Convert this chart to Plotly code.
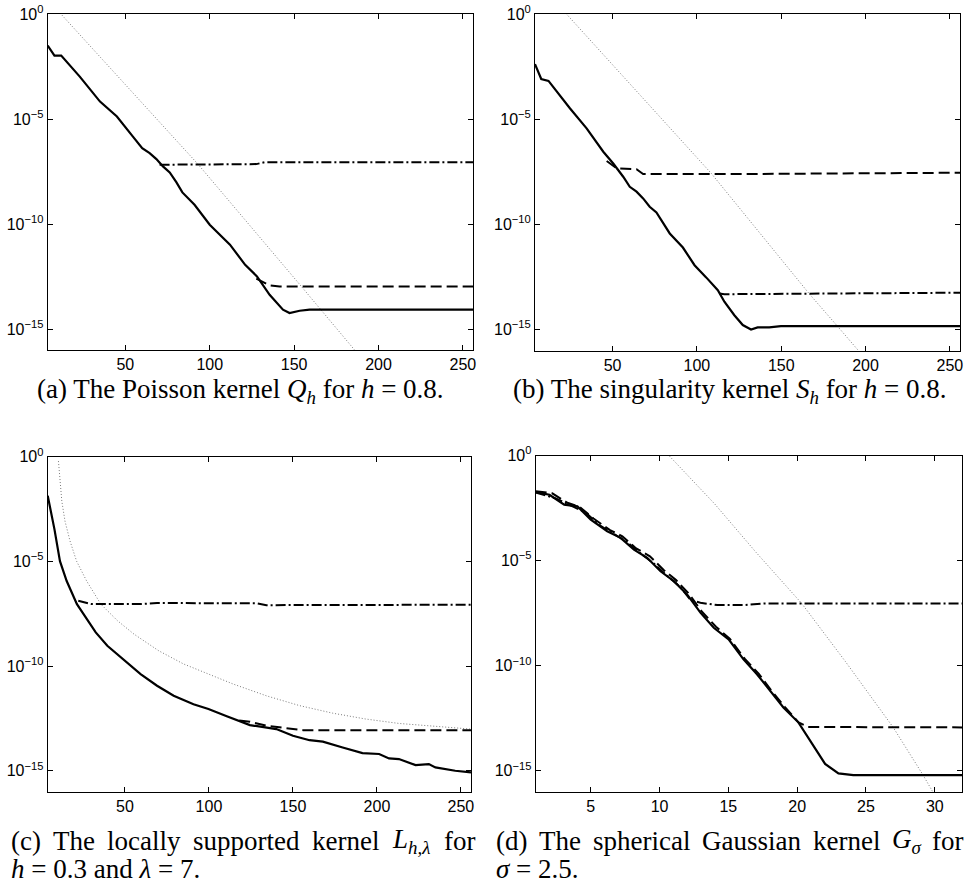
import plotly.graph_objects as go

W, H = 967, 887

# ---------------- data (log10 of the error) ----------------
# (a) Poisson kernel
a_solid_x = [4, 8, 12, 23, 35, 45, 54.5, 60, 64.4, 68.4, 72.3, 76.3, 80.2, 83.8, 91, 100, 112, 121, 128, 135.5, 143.4, 147.3, 153.3, 159.2, 256]
a_solid_e = [-1.49, -1.97, -1.97, -2.97, -4.16, -4.87, -5.83, -6.38, -6.62, -6.9, -7.25, -7.54, -8.0, -8.49, -9.08, -10.03, -10.98, -11.94, -12.49, -13.37, -14.08, -14.24, -14.13, -14.08, -14.08]
a_dash_x = [127.6, 135.5, 141.4, 256]
a_dash_e = [-12.6, -12.92, -12.97, -12.97]
a_dashdot_x = [70.3, 127.6, 132.5, 256]
a_dashdot_e = [-7.17, -7.14, -7.05, -7.05]
a_dot_x = [8, 12, 50, 93, 154.3, 166, 186, 190]
a_dot_e = [0.4, 0.0, -3.35, -7.14, -12.97, -14.08, -16.0, -16.4]

# (b) singularity kernel
b_solid_x = [4, 7.7, 12, 16.9, 24.8, 34.6, 44.5, 50.4, 56.3, 60.2, 64.2, 68.1, 72, 76, 83.9, 91.7, 98.6, 105.5, 112.4, 116.3, 122.2, 127.2, 132.1, 136, 142.9, 149.8, 256]
b_solid_e = [-2.37, -3.08, -3.17, -3.68, -4.48, -5.43, -6.54, -7.10, -7.73, -8.21, -8.44, -8.76, -9.16, -9.43, -10.43, -11.1, -11.94, -12.52, -13.13, -13.68, -14.32, -14.79, -15.0, -14.9, -14.9, -14.84, -14.84]
b_dash_x = [46.5, 52.4, 64.2, 68.1, 129, 256]
b_dash_e = [-6.98, -7.33, -7.37, -7.60, -7.60, -7.54]
b_dashdot_x = [113.4, 116.3, 256]
b_dashdot_e = [-13.29, -13.32, -13.25]
b_dot_x = [20, 22.8, 108.5, 166.5, 183.3, 196, 200]
b_dot_e = [0.25, 0.0, -7.57, -13.29, -14.84, -16.0, -16.4]

# (c) locally supported kernel
c_solid_x = [4, 8, 11.3, 15.3, 21.4, 26.7, 32.6, 39.5, 45.5, 51.4, 59.3, 69.1, 79, 90.8, 99.7, 110.6, 124.4, 140.1, 150, 159.9, 167.8, 179.6, 191.4, 201.3, 207.2, 213.1, 223, 230.9, 234.8, 246.6, 256]
c_solid_e = [-1.86, -3.46, -4.99, -5.94, -7.04, -7.68, -8.39, -9.03, -9.43, -9.86, -10.38, -10.94, -11.42, -11.82, -12.05, -12.40, -12.82, -13.01, -13.33, -13.54, -13.61, -13.89, -14.16, -14.2, -14.41, -14.44, -14.73, -14.68, -14.84, -15.0, -15.08]
c_dash_x = [118, 124.4, 134.2, 156, 256]
c_dash_e = [-12.6, -12.66, -12.85, -13.06, -13.06]
c_dashdot_x = [22.2, 29.7, 59.3, 69.1, 128.3, 134.2, 256]
c_dashdot_e = [-6.88, -7.04, -7.04, -6.99, -7.0, -7.09, -7.07]
c_dot_x = [10.4, 12.4, 14.3, 17.3, 21.2, 27.2, 35.6, 45.5, 55.3, 70.1, 84.9, 99.7, 114.5, 134.2, 154, 173.7, 193.4, 213.1, 232.8, 256]
c_dot_e = [-0.21, -2.12, -3.08, -4.03, -4.99, -5.94, -7.04, -7.83, -8.47, -9.27, -9.9, -10.38, -10.86, -11.42, -11.89, -12.25, -12.53, -12.74, -12.88, -13.01]

# (d) spherical Gaussian kernel
d_solid_x = [1, 2, 3.07, 4.03, 5, 6.2, 7.17, 8.14, 9.1, 10.07, 11.04, 12, 12.97, 13.94, 15.02, 16.1, 17.08, 18.04, 19, 20.1, 20.94, 22.03, 23, 24.08, 32]
d_solid_e = [-1.74, -1.87, -2.34, -2.42, -3.05, -3.61, -3.92, -4.48, -4.87, -5.51, -5.98, -6.61, -7.48, -8.2, -8.75, -9.7, -10.41, -11.2, -11.99, -12.71, -13.58, -14.68, -15.13, -15.21, -15.21]
d_dash_x = [1, 2.2, 3.3, 4.2, 5.2, 6.4, 7.3, 8.3, 9.3, 10.3, 11.2, 12.1, 13.1, 14.1, 15.1, 16.2, 17.2, 18.1, 19.1, 20.1, 20.8, 32]
d_dash_e = [-1.70, -1.80, -2.25, -2.45, -3.00, -3.55, -3.85, -4.42, -4.80, -5.45, -5.93, -6.55, -7.45, -8.15, -8.72, -9.68, -10.38, -11.17, -11.96, -12.70, -12.92, -12.94]
d_dashdot_x = [1, 2.5, 3.6, 4.6, 5.6, 6.7, 7.7, 8.7, 9.6, 10.6, 11.5, 12.25, 12.97, 14.2, 16.1, 17.6, 32]
d_dashdot_e = [-1.76, -2.05, -2.40, -2.70, -3.30, -3.75, -4.15, -4.70, -5.15, -5.75, -6.25, -6.88, -7.01, -7.12, -7.12, -7.04, -7.04]
d_dot_x = [10.3, 10.68, 14.0, 17.0, 20.33, 23.5, 26.98, 29.15, 30.2]
d_dot_e = [0.3, 0.0, -2.3, -4.6, -7.04, -9.8, -12.94, -15.21, -16.4]

x_ticks_256 = [50, 100, 150, 200, 250]
x_ticks_32 = [5, 10, 15, 20, 25, 30]
y_tick_exps = [0, -5, -10, -15]
y_tick_text = ["10<sup>0</sup>", "10<sup>\u22125</sup>", "10<sup>\u221210</sup>", "10<sup>\u221215</sup>"]

captions_ab = [
    "(a) The Poisson kernel <i>Q<sub>h</sub></i> for <i>h</i> = 0.8.",
    "(b) The singularity kernel <i>S<sub>h</sub></i> for <i>h</i> = 0.8.",
]
caption_c_words = ["(c)", "The", "locally", "supported", "kernel", "<i>L<sub>h,\u03bb</sub></i>", "for"]
caption_c_line2 = "<i>h</i> = 0.3 and <i>\u03bb</i> = 7."
caption_d_words = ["(d)", "The", "spherical", "Gaussian", "kernel", "<i>G<sub>\u03c3</sub></i>", "for"]
caption_d_line2 = "<i>\u03c3</i> = 2.5."

# ---------------- figure ----------------
fig = go.Figure()

panels = [
    dict(n="", xr=[4, 256], xt=x_ticks_256, dom_x=[47.7, 473], dom_y=[14.3, 350],
         s=(a_solid_x, a_solid_e), da=(a_dash_x, a_dash_e), dd=(a_dashdot_x, a_dashdot_e), dt=(a_dot_x, a_dot_e)),
    dict(n="2", xr=[4, 256], xt=x_ticks_256, dom_x=[535, 960], dom_y=[14.3, 350.5],
         s=(b_solid_x, b_solid_e), da=(b_dash_x, b_dash_e), dd=(b_dashdot_x, b_dashdot_e), dt=(b_dot_x, b_dot_e)),
    dict(n="3", xr=[4, 256], xt=x_ticks_256, dom_x=[47.7, 471], dom_y=[456.7, 791.7],
         s=(c_solid_x, c_solid_e), da=(c_dash_x, c_dash_e), dd=(c_dashdot_x, c_dashdot_e), dt=(c_dot_x, c_dot_e)),
    dict(n="4", xr=[1, 32], xt=x_ticks_32, dom_x=[535.7, 962.3], dom_y=[455.5, 791.7],
         s=(d_solid_x, d_solid_e), da=(d_dash_x, d_dash_e), dd=(d_dashdot_x, d_dashdot_e), dt=(d_dot_x, d_dot_e)),
]

def pw(v):
    return [10 ** e for e in v]

layout_axes = {}
for p in panels:
    n = p["n"]
    xa, ya = "x" + n, "y" + n
    fig.add_trace(go.Scatter(x=p["dt"][0], y=pw(p["dt"][1]), mode="lines", xaxis=xa, yaxis=ya,
                             line=dict(color="#7a7a7a", width=1, dash="1px,2px"), showlegend=False))
    fig.add_trace(go.Scatter(x=p["s"][0], y=pw(p["s"][1]), mode="lines", xaxis=xa, yaxis=ya,
                             line=dict(color="black", width=2.2), showlegend=False))
    fig.add_trace(go.Scatter(x=p["da"][0], y=pw(p["da"][1]), mode="lines", xaxis=xa, yaxis=ya,
                             line=dict(color="black", width=2, dash="11px,5px"), showlegend=False))
    fig.add_trace(go.Scatter(x=p["dd"][0], y=pw(p["dd"][1]), mode="lines", xaxis=xa, yaxis=ya,
                             line=dict(color="black", width=2, dash="10px,3px,2px,3px"), showlegend=False))
    common = dict(showline=True, linecolor="black", linewidth=1, mirror="allticks", ticks="inside",
                  ticklen=5, tickcolor="black", showgrid=False, zeroline=False, automargin=False,
                  tickfont=dict(family="Liberation Sans, Arial", size=16, color="black"))
    layout_axes["xaxis" + n] = dict(common, range=p["xr"], tickvals=p["xt"], anchor=ya,
                                    domain=[p["dom_x"][0] / W, p["dom_x"][1] / W])
    layout_axes["yaxis" + n] = dict(common, type="log", range=[-16, 0], anchor=xa,
                                    tickvals=[10 ** e for e in y_tick_exps], ticktext=y_tick_text,
                                    domain=[1 - p["dom_y"][1] / H, 1 - p["dom_y"][0] / H])

fig.update_layout(width=W, height=H, margin=dict(l=0, r=0, t=0, b=0, autoexpand=False),
                  paper_bgcolor="white", plot_bgcolor="white", **layout_axes)

cap_font = dict(family="Liberation Serif, Times New Roman, serif", size=27, color="black")

def ann(text, px, py, xanchor="left"):
    fig.add_annotation(text=text, x=px / W, y=1 - py / H, xref="paper", yref="paper",
                       xanchor=xanchor, yanchor="middle", showarrow=False, font=cap_font)

ann(captions_ab[0], 240, 391, "center")
ann(captions_ab[1], 730, 391, "center")

c_pos = [9, 51, 105, 191, 310, 390, 442]
for w, x in zip(caption_c_words, c_pos):
    ann(w, x, 841)
ann(caption_c_line2, 9, 869)

d_pos = [494, 537, 591, 700, 811, 890, 930]
for w, x in zip(caption_d_words, d_pos):
    ann(w, x, 841)
ann(caption_d_line2, 494, 869)

fig.write_html("out.html", config={"displayModeBar": False},
               post_script="document.body.style.margin='0px';document.body.style.overflow='hidden';")
